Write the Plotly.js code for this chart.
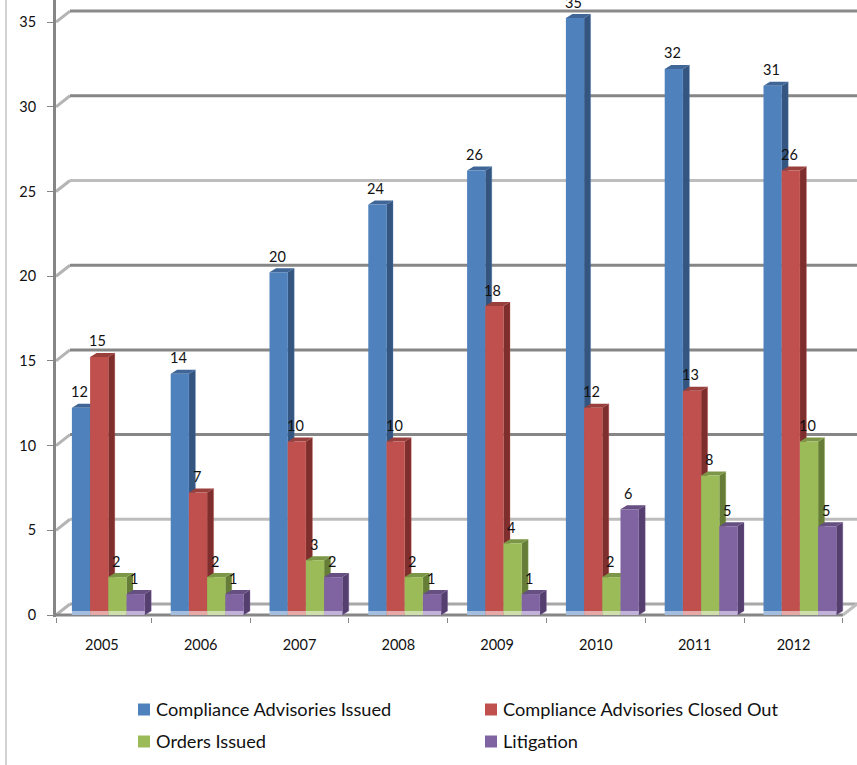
<!DOCTYPE html>
<html>
<head>
<meta charset="utf-8">
<script src="https://cdn.plot.ly/plotly-3.0.1.min.js"></script>
<style>html,body{margin:0;padding:0;background:#fff;overflow:hidden}</style>
</head>
<body>
<div id="chart" style="width:857px;height:765px"></div>
<script>
// Yearly enforcement counts
const years = ['2005', '2006', '2007', '2008', '2009', '2010', '2011', '2012'];
const advisoriesIssued = [12, 14, 20, 24, 26, 35, 32, 31];
const advisoriesClosed = [15, 7, 10, 10, 18, 12, 13, 26];
const ordersIssued = [2, 2, 3, 2, 4, 2, 8, 10];
const litigation = [1, 1, 2, 1, 1, 6, 5, 5];
const seriesNames = ['Compliance Advisories Issued', 'Compliance Advisories Closed Out', 'Orders Issued', 'Litigation'];
const seriesValues = [advisoriesIssued, advisoriesClosed, ordersIssued, litigation];

// Face colours of the extruded columns
const frontColors = ['#4F81BD', '#C0504D', '#9BBB59', '#8064A2'];
const sideColors = ['#34557F', '#7E2F2D', '#667D38', '#553F6F'];
const topColors = ['#3F6696', '#993F3C', '#7C9647', '#664F81'];
const footColors = ['#A3BEDF', '#E5A9A7', '#CFDFAB', '#C2B1D8'];

// Wall gridlines and their tones
const gridValues = [0, 5, 10, 15, 20, 25, 30, 35];
const gridColors = ['#A8A8A8', '#BDBDBD', '#868686', '#868686', '#868686', '#BDBDBD', '#868686', '#8A8A8A'];

const FONT = 'Lato, Carlito, "Open Sans", sans-serif';
const W = 857, H = 765, LEFT = 56, BOTTOM = 148;
const pxX = 98.8, pxY = 16.94;     // pixels per category, pixels per unit
const zeroPx = 615;                // pixel row of value 0 on the front plane

// Category 0 starts a little left of the value axis line
const xMin = 3.5 / pxX, xMax = xMin + (W - LEFT) / pxX;
const plotH = H - BOTTOM;
const yRange = [(zeroPx - plotH) / pxY, zeroPx / pxY];
const lift = 4 / pxY;              // columns stand slightly inside the floor
const colRange = [yRange[0] - lift, yRange[1] - lift];

const wallEnd = 17.5 / pxX, wallDy = 11 / pxY;
const barW = 18.2 / pxX, barStart = 19.4 / pxX;
const sideDx = 6.5 / pxX;

const traces = [];

// Back wall: slanted stub plus a long line for every value
gridValues.forEach((v, k) => {
  traces.push({
    x: [xMin, wallEnd], y: [v, v + wallDy], mode: 'lines', xaxis: 'x', yaxis: 'y',
    line: {color: '#B4B4B4', width: 3}, hoverinfo: 'skip', showlegend: false
  });
  traces.push({
    x: [wallEnd, xMax], y: [v + wallDy, v + wallDy], mode: 'lines', xaxis: 'x', yaxis: 'y',
    line: {color: gridColors[k], width: 3}, hoverinfo: 'skip', showlegend: false
  });
});
// Floor edge on the right
traces.push({
  x: [years.length, xMax], y: [0, wallDy], mode: 'lines', xaxis: 'x', yaxis: 'y',
  line: {color: '#BEBEBE', width: 3}, hoverinfo: 'skip', showlegend: false
});
// Front floor edge
traces.push({
  x: [xMin, years.length], y: [0, 0], mode: 'lines', xaxis: 'x', yaxis: 'y', cliponaxis: false,
  line: {color: '#868686', width: 3}, hoverinfo: 'skip', showlegend: false
});

const barX = (i, s) => i + barStart + s * barW;

// Side and top faces, one outlined polygon per column
seriesValues.forEach((vals, s) => {
  const sx = [], sy = [], tx = [], ty = [];
  vals.forEach((v, i) => {
    const l = barX(i, s), r = l + barW;
    sx.push(r, r, r + sideDx, r + sideDx, r, null);
    sy.push(-lift, v, v + lift, 0, -lift, null);
    tx.push(l, l + sideDx, r + sideDx, r, l, null);
    ty.push(v, v + lift, v + lift, v, v, null);
  });
  traces.push({
    x: sx, y: sy, mode: 'lines', fill: 'toself', fillcolor: sideColors[s], xaxis: 'x', yaxis: 'y2',
    line: {color: frontColors[s] + '55', width: 1}, hoverinfo: 'skip', showlegend: false
  });
  traces.push({
    x: tx, y: ty, mode: 'lines', fill: 'toself', fillcolor: topColors[s], xaxis: 'x', yaxis: 'y2',
    line: {width: 0}, hoverinfo: 'skip', showlegend: false
  });
});

// Front faces
seriesValues.forEach((vals, s) => {
  traces.push({
    type: 'bar', name: seriesNames[s], x: vals.map((v, i) => barX(i, s) + barW / 2), y: vals,
    width: barW, marker: {color: frontColors[s], line: {width: 0}}, xaxis: 'x', yaxis: 'y3',
    showlegend: false
  });
  traces.push({
    type: 'bar', x: vals.map((v, i) => barX(i, s) + barW / 2), y: vals.map(() => lift), base: -lift,
    width: barW, marker: {color: footColors[s], line: {width: 0}}, xaxis: 'x', yaxis: 'y3',
    hoverinfo: 'skip', showlegend: false
  });
});

// Value labels above each column
const annotations = [];
seriesValues.forEach((vals, s) => {
  vals.forEach((v, i) => {
    annotations.push({
      x: barX(i, s) + barW / 2, y: v, xref: 'x', yref: 'y3', text: String(v), showarrow: false,
      xanchor: 'center', yanchor: 'middle', xshift: -1.5, yshift: 16, borderpad: 0,
      font: {family: FONT, size: 14.5, color: '#111'}
    });
  });
});

// Two-by-two key under the chart
const legendX = [138, 485], legendY = [709.5, 741.5];
const toPaperX = px => (px - LEFT) / (W - LEFT);
const toPaperY = px => (plotH - px) / plotH;
const shapes = [{
  type: 'line', xref: 'paper', yref: 'paper',
  x0: toPaperX(6), x1: toPaperX(6), y0: toPaperY(0), y1: toPaperY(H),
  line: {color: '#A6A6A6', width: 1}
}];
seriesNames.forEach((name, s) => {
  const px = legendX[s % 2], py = legendY[Math.floor(s / 2)];
  shapes.push({
    type: 'rect', xref: 'paper', yref: 'paper',
    x0: toPaperX(px), x1: toPaperX(px + 12), y0: toPaperY(py - 6), y1: toPaperY(py + 6),
    fillcolor: frontColors[s], line: {width: 0}
  });
  annotations.push({
    x: toPaperX(px + 16.5), y: toPaperY(py - 1), xref: 'paper', yref: 'paper', text: name, showarrow: false,
    xanchor: 'left', yanchor: 'middle', borderpad: 0, font: {family: FONT, size: 18.2, color: '#111'}
  });
});

const layout = {
  width: W, height: H, margin: {l: LEFT, r: 0, t: 0, b: BOTTOM},
  paper_bgcolor: '#fff', plot_bgcolor: '#fff', showlegend: false, barmode: 'overlay',
  xaxis: {
    range: [xMin, xMax], showgrid: false, zeroline: false, showline: false,
    tickmode: 'array', tickvals: years.map((y, i) => i + 0.5), ticktext: years,
    ticks: '', ticklen: 0, ticklabelstandoff: 17,
    tickfont: {family: FONT, size: 14.5, color: '#111'},
    minor: {tickmode: 'array', tickvals: [xMin].concat(years.slice(1).map((y, i) => i + 1), years.length),
            ticks: 'outside', ticklen: 5, tickwidth: 1, tickcolor: '#868686', showgrid: false}
  },
  yaxis: {
    range: yRange, showgrid: false, zeroline: false, showline: true, linewidth: 3, linecolor: '#868686',
    tickmode: 'array', tickvals: gridValues, ticks: 'outside', ticklen: 6, tickwidth: 1, tickcolor: '#868686',
    ticklabelstandoff: 8, tickfont: {family: FONT, size: 14.5, color: '#111'}
  },
  yaxis2: {range: colRange, overlaying: 'y', anchor: 'x', visible: false},
  yaxis3: {range: colRange, overlaying: 'y', anchor: 'x', visible: false},
  annotations: annotations, shapes: shapes
};

Plotly.newPlot('chart', traces, layout, {displayModeBar: false, staticPlot: true});
</script>
</body>
</html>
